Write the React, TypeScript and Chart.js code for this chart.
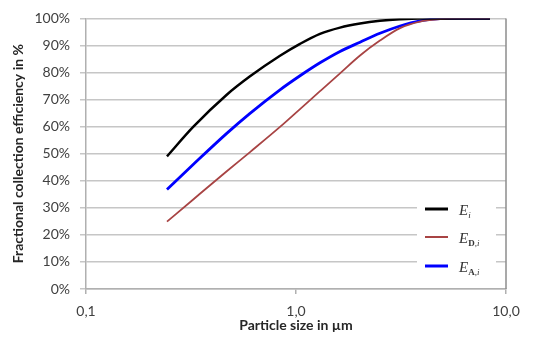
import React, { useEffect, useRef } from "react";
import { Chart, registerables } from "chart.js";

Chart.register(...registerables);

// Particle size in µm
const sizes = [0.243, 0.323, 0.468, 0.604, 0.839, 1.045, 1.301, 1.62, 2.018, 2.51, 3.13, 3.89, 4.85, 6.04, 8.39];
// Fractional collection efficiencies in %
const Ei = [49, 59.8, 71.8, 78.6, 86.2, 90.6, 94.3, 96.6, 98.1, 99.1, 99.7, 100, 100, 100, 100];
const EDi = [24.9, 33.0, 43.5, 50.6, 59.9, 66.5, 73.1, 79.7, 86.3, 91.8, 96.4, 98.8, 99.7, 100, 100];
const EAi = [36.8, 45.9, 57.5, 64.9, 73.6, 78.8, 83.6, 87.8, 91.2, 94.5, 97.2, 99.1, 99.9, 100, 100];
const xTicks = [0.1, 1, 10];
const yTicks = [0, 10, 20, 30, 40, 50, 60, 70, 80, 90, 100];

const seriesNames = [
  { main: "E", subs: [{ t: "i", style: "italic" }] },
  { main: "E", subs: [{ t: "D", style: "bold" }, { t: ",i", style: "italic" }] },
  { main: "E", subs: [{ t: "A", style: "bold" }, { t: ",i", style: "italic" }] },
];
const seriesColors = ["#000000", "#a84444", "#0000ff"];

const FONT = "Lato, 'Liberation Sans', sans-serif";

export default function App() {
  const ref = useRef<HTMLCanvasElement | null>(null);

  useEffect(() => {
    document.body.style.margin = "0";
    const canvas = ref.current;
    if (!canvas) return;

    const legendPlugin = {
      id: "customLegend",
      afterDraw(chart: any) {
        const ctx = chart.ctx;
        const area = chart.chartArea;
        ctx.save();
        // right border
        ctx.strokeStyle = "#8c8c8c";
        ctx.lineWidth = 1.5;
        ctx.beginPath();
        ctx.moveTo(area.right, area.top);
        ctx.lineTo(area.right, area.bottom);
        ctx.stroke();
        // legend box
        const bx = 417, by = 194, bw = 79, bh = 86;
        ctx.fillStyle = "#ffffff";
        ctx.fillRect(bx, by, bw, bh);
        const ys = [209, 237, 266];
        const lineWidths = [3, 2, 3];
        seriesNames.forEach((s, i) => {
          const y = ys[i];
          ctx.strokeStyle = seriesColors[i];
          ctx.lineWidth = lineWidths[i];
          ctx.beginPath();
          ctx.moveTo(425, y);
          ctx.lineTo(448, y);
          ctx.stroke();
          ctx.fillStyle = "#333333";
          ctx.textBaseline = "alphabetic";
          ctx.textAlign = "left";
          ctx.font = "italic 15px 'Liberation Serif', 'DejaVu Serif', serif";
          ctx.fillText(s.main, 459, y + 6);
          let x = 459 + ctx.measureText(s.main).width;
          s.subs.forEach((sub) => {
            ctx.font =
              (sub.style === "bold" ? "bold " : "italic ") +
              "9px 'Liberation Serif', 'DejaVu Serif', serif";
            ctx.fillText(sub.t, x, y + 9);
            x += ctx.measureText(sub.t).width;
          });
        });
        ctx.restore();
      },
    };

    const mk = (label: string, vals: number[], color: string, w: number) => ({
      label,
      data: sizes.map((x, i) => ({ x, y: vals[i] })),
      borderColor: color,
      borderWidth: w,
      pointRadius: 0,
      cubicInterpolationMode: "monotone",
    });

    const chart = new Chart(canvas, {
      type: "line",
      data: {
        datasets: [
          mk("Ei", Ei, seriesColors[0], 2.5),
          mk("ED,i", EDi, seriesColors[1], 1.8),
          mk("EA,i", EAi, seriesColors[2], 2.8),
        ],
      },
      options: {
        animation: false,
        responsive: true,
        maintainAspectRatio: false,
        layout: { padding: { left: 0, top: 15, right: 27, bottom: 0 } },
        plugins: { legend: { display: false }, tooltip: { enabled: false } },
        scales: {
          x: {
            type: "logarithmic",
            min: 0.1,
            max: 10,
            afterBuildTicks: (scale: any) => {
              scale.ticks = xTicks.map((v) => ({ value: v }));
            },
            afterFit: (scale: any) => {
              scale.height = 50;
            },
            grid: {
              drawOnChartArea: false,
              drawTicks: true,
              tickLength: 5,
              color: "#b0b0b0",
              lineWidth: 1.5,
            },
            border: { display: true, color: "#b0b0b0", width: 1.5 },
            ticks: {
              autoSkip: false,
              maxRotation: 0,
              padding: 9,
              color: "#404040",
              font: { family: FONT, size: 14 },
              callback: (v: any) => Number(v).toFixed(1).replace(".", ","),
            },
            title: {
              display: true,
              text: "Particle size in µm",
              color: "#262626",
              font: { family: FONT, size: 14, weight: "bold" },
              padding: { top: 0, bottom: 5 },
            },
          },
          y: {
            min: 0,
            max: 100,
            afterBuildTicks: (scale: any) => {
              scale.ticks = yTicks.map((v) => ({ value: v }));
            },
            afterFit: (scale: any) => {
              scale.width = 86;
            },
            grid: {
              color: "#c6c6c6",
              lineWidth: 1.5,
              drawTicks: true,
              tickLength: 6,
            },
            border: { display: true, color: "#b0b0b0", width: 1.5 },
            ticks: {
              padding: 10,
              color: "#404040",
              font: { family: FONT, size: 14 },
              callback: (v: any) => v + "%",
            },
            title: {
              display: true,
              text: "Fractional collection efficiency in %",
              color: "#262626",
              font: { family: FONT, size: 14, weight: "bold" },
              padding: { top: 10, bottom: 0 },
            },
          },
        },
      },
      plugins: [legendPlugin],
    } as any);

    return () => chart.destroy();
  }, []);

  return (
    <div style={{ width: 533, height: 339, position: "relative" }}>
      <canvas ref={ref} />
    </div>
  );
}
